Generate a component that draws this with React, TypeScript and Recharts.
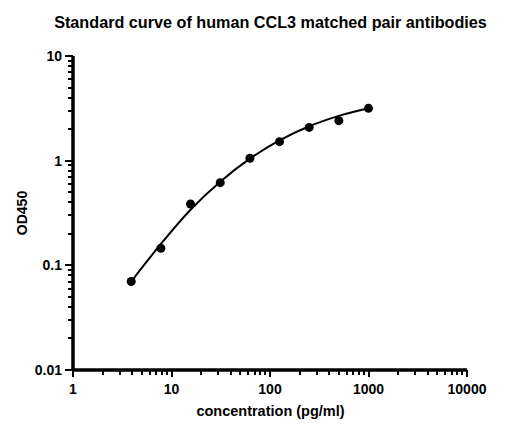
import React from 'react';
import { ComposedChart, Scatter, Line, XAxis, YAxis, ReferenceLine } from 'recharts';

// measured standards (pg/ml vs OD450)
const concentrations = [3.9, 7.8, 15.6, 31.25, 62.5, 125, 250, 500, 1000];
const odValues = [0.07, 0.1455, 0.385, 0.616, 1.054, 1.52, 2.08, 2.41, 3.17];

// fitted curve
const curveX = [3.9, 7.8, 15.6, 31.25, 62.5, 125, 250, 500, 1000];
const curveY = [0.07, 0.16, 0.34, 0.63, 1.045, 1.56, 2.13, 2.68, 3.17];

const xTicks = [1, 2, 3, 4, 5, 6, 7, 8, 9, 10, 20, 30, 40, 50, 60, 70, 80, 90, 100, 200, 300, 400, 500, 600, 700, 800, 900, 1000, 2000, 3000, 4000, 5000, 6000, 7000, 8000, 9000, 10000];
const xMajor = [1, 10, 100, 1000, 10000];
const yTicks = [0.01, 0.02, 0.03, 0.04, 0.05, 0.06, 0.07, 0.08, 0.09, 0.1, 0.2, 0.3, 0.4, 0.5, 0.6, 0.7, 0.8, 0.9, 1, 2, 3, 4, 5, 6, 7, 8, 9, 10];
const yMajor = [0.01, 0.1, 1, 10];

const points = concentrations.map((x, i) => ({ x, y: odValues[i] }));
const curve = curveX.map((x, i) => ({ x, y: curveY[i] }));

const font = '"Liberation Sans", Arial, sans-serif';

function XTick(props: any) {
  const { x, y, payload } = props;
  const major = xMajor.includes(payload.value);
  return (
    <g>
      <line x1={x} x2={x} y1={y} y2={y + (major ? 7 : 4.5)} stroke="#000" strokeWidth={2} shapeRendering="crispEdges" />
      {major && (
        <text x={x} y={y + 24} textAnchor="middle" fontFamily={font} fontWeight="bold" fontSize={14} fill="#000">
          {payload.value}
        </text>
      )}
    </g>
  );
}

function YTick(props: any) {
  const { x, y, payload } = props;
  const major = yMajor.includes(payload.value);
  return (
    <g>
      <line x1={x - (major ? 8.5 : 5)} x2={x} y1={y} y2={y} stroke="#000" strokeWidth={2} shapeRendering="crispEdges" />
      {major && (
        <text x={x - 11} y={y + 5} textAnchor="end" fontFamily={font} fontWeight="bold" fontSize={14} fill="#000">
          {String(payload.value)}
        </text>
      )}
    </g>
  );
}

export default function App() {
  return (
    <div style={{ position: 'absolute', left: 0, top: 0, width: 513, height: 437, background: '#fff', fontFamily: font }}>
      <div style={{ position: 'absolute', left: 0, width: 541, top: 13, textAlign: 'center', fontWeight: 'bold', fontSize: 16.2, color: '#000' }}>
        Standard curve of human CCL3 matched pair antibodies
      </div>
      <ComposedChart width={513} height={437} margin={{ top: 56, right: 46, bottom: 37, left: 13 }}>
        <XAxis
          type="number"
          dataKey="x"
          scale="log"
          domain={[1, 10000]}
          allowDataOverflow
          ticks={xTicks}
          interval={0}
          tickSize={0}
          tickMargin={0}
          height={30}
          axisLine={{ stroke: '#000', strokeWidth: 3 }}
          tickLine={false}
          tick={<XTick />}
        />
        <YAxis
          type="number"
          dataKey="y"
          scale="log"
          domain={[0.01, 10]}
          allowDataOverflow
          ticks={yTicks}
          interval={0}
          tickSize={0}
          tickMargin={0}
          width={60}
          axisLine={{ stroke: '#000', strokeWidth: 3 }}
          tickLine={false}
          tick={<YTick />}
        />
        <ReferenceLine x={1} stroke="#000" strokeWidth={3} />
        <ReferenceLine y={0.01} stroke="#000" strokeWidth={3} />
        <Line data={curve} dataKey="y" type="monotone" stroke="#000" strokeWidth={2} dot={false} isAnimationActive={false} />
        <Scatter data={points} dataKey="y" fill="#000" shape={(p: any) => <circle cx={p.cx} cy={p.cy} r={4.5} fill="#000" />} isAnimationActive={false} />
      </ComposedChart>
      <div style={{ position: 'absolute', left: 0, width: 541, top: 403, textAlign: 'center', fontWeight: 'bold', fontSize: 14.5, color: '#000' }}>
        concentration (pg/ml)
      </div>
      <div style={{ position: 'absolute', left: 22, top: 213, transform: 'translate(-50%, -50%) rotate(-90deg)', fontWeight: 'bold', fontSize: 14, color: '#000', whiteSpace: 'nowrap' }}>
        OD450
      </div>
    </div>
  );
}
